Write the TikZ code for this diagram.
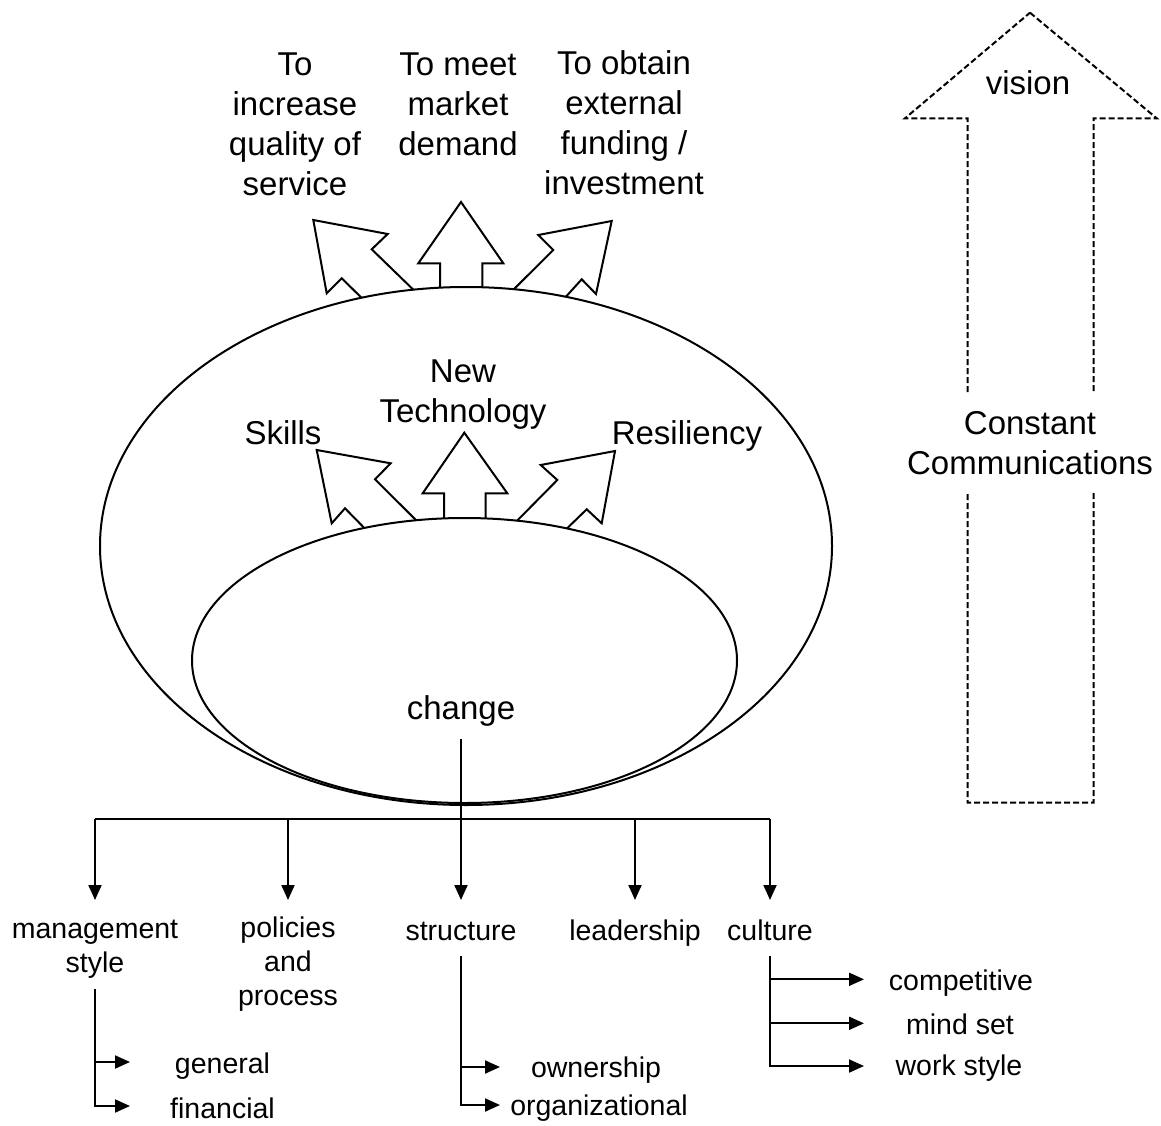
\documentclass[tikz,border=0pt]{standalone}
\usepackage{fontspec}
\setmainfont{Liberation Sans}
\usetikzlibrary{arrows.meta}
\begin{document}
\begin{tikzpicture}[x=1pt,y=-1pt,
  line width=2pt,
  big/.style={font=\fontsize{33}{40}\selectfont, inner sep=0pt, align=center},
  small/.style={font=\fontsize{28.5}{34}\selectfont, inner sep=0pt, align=center},
  arr/.style={-{Triangle[width=13pt,length=15pt]}},
  blockarrow/.style={fill=white, line join=miter},
  dashedarrow/.style={dash pattern=on 6pt off 3pt, line join=miter}
]
\useasboundingbox (0,0) rectangle (1161,1126);

% goal arrows leaving the outer ellipse (their feet are hidden by it)
\draw[blockarrow] (426,302) -- (371.7,249.3) -- (387.7,234) -- (313.3,220) -- (326.7,293.3) -- (341.7,278.3) -- (375,311) -- cycle;
\draw[blockarrow] (440,300) -- (440,263.3) -- (418.3,263.3) -- (461,202) -- (503.3,263.3) -- (482.3,263.3) -- (482.3,300) -- cycle;
\draw[blockarrow] (501,302) -- (553.3,250) -- (538.3,235) -- (611.7,221) -- (596,294) -- (581.7,279.3) -- (553,311) -- cycle;

% outer ellipse
\draw[fill=white] (466,546) ellipse [x radius=366, y radius=259];

% capability arrows leaving the inner ellipse
\draw[blockarrow] (430,534) -- (375,479.3) -- (390.7,463.3) -- (316.7,450) -- (331.7,523.3) -- (345,508.3) -- (378,542) -- cycle;
\draw[blockarrow] (444,535) -- (444,493.3) -- (422.7,493.3) -- (464.3,432.7) -- (507.3,493.3) -- (485.7,493.3) -- (485.7,535) -- cycle;
\draw[blockarrow] (503,535) -- (557.3,480) -- (540.7,465) -- (615,451) -- (601.7,523.3) -- (586.7,509.3) -- (553,542) -- cycle;

% inner ellipse
\draw[fill=white] (464.5,660.5) ellipse [x radius=272.5, y radius=142.5];

% dashed vision arrow
\draw[dashedarrow] (1030,12.7) -- (1156.7,118.3) -- (1093.5,118.3) -- (1093.5,802.7)
  -- (967.5,802.7) -- (967.5,118.3) -- (905,118.3) -- cycle;
\node[big, fill=white, minimum height=100pt] (comm) at (1030,443) {Constant\\Communications};
\node[big, anchor=base] (vision) at (1028,95) {vision};

% goals
\node[big, anchor=base] (goalA) at (295,196) {To\\increase\\quality of\\service};
\node[big, anchor=base] (goalB) at (458,156) {To meet\\market\\demand};
\node[big, anchor=base] (goalC) at (624,195) {To obtain\\external\\funding /\\investment};

% capabilities
\node[big, anchor=base] (tech) at (463,422) {New\\Technology};
\node[big, anchor=base] (skills) at (283,444) {Skills};
\node[big, anchor=base] (resil) at (687,444) {Resiliency};
\node[big, anchor=base] (chg) at (461,719) {change};

% areas of change
\node[small, anchor=base] (mgmt) at (95,972) {management\\style};
\node[small, anchor=base] (pol) at (288,1005) {policies\\and\\process};
\node[small, anchor=base] (struc) at (461,940) {structure};
\node[small, anchor=base] (lead) at (635,940) {leadership};
\node[small, anchor=base] (cult) at (770,940) {culture};

% sub-areas
\node[small, anchor=base] (gen) at (222.5,1073) {general};
\node[small, anchor=base] (fin) at (222.5,1118) {financial};
\node[small, anchor=base] (own) at (596,1077) {ownership};
\node[small, anchor=base] (org) at (599,1115) {organizational};
\node[small, anchor=base] (comp) at (961,990) {competitive};
\node[small, anchor=base] (mind) at (960,1034) {mind set};
\node[small, anchor=base] (work) at (959,1075) {work style};

% tree from change
\coordinate (hub) at (461,819);
\coordinate (tipline) at (0,900);
\draw ([yshift=-12pt]chg.south) -- (hub);
\draw (mgmt.north |- hub) -- (cult.north |- hub);
\foreach \n in {mgmt,pol,struc,lead,cult}
  \draw[arr] (\n.north |- hub) -- (\n.north |- tipline);

% sub-trees
\coordinate (genTip) at (130,1062);
\coordinate (finTip) at (130,1106);
\draw[arr] ([yshift=-10pt]mgmt.south) |- (finTip);
\draw[arr] (mgmt.south |- genTip) -- (genTip);

\coordinate (ownTip) at (500,1067);
\coordinate (orgTip) at (500,1105);
\draw[arr] ([yshift=-15pt]struc.south) |- (orgTip);
\draw[arr] (struc.south |- ownTip) -- (ownTip);

\coordinate (compTip) at (864,979.3);
\coordinate (mindTip) at (864,1023.3);
\coordinate (workTip) at (864,1066);
\draw[arr] ([yshift=-15pt]cult.south) |- (workTip);
\draw[arr] (cult.south |- compTip) -- (compTip);
\draw[arr] (cult.south |- mindTip) -- (mindTip);
\end{tikzpicture}
\end{document}
